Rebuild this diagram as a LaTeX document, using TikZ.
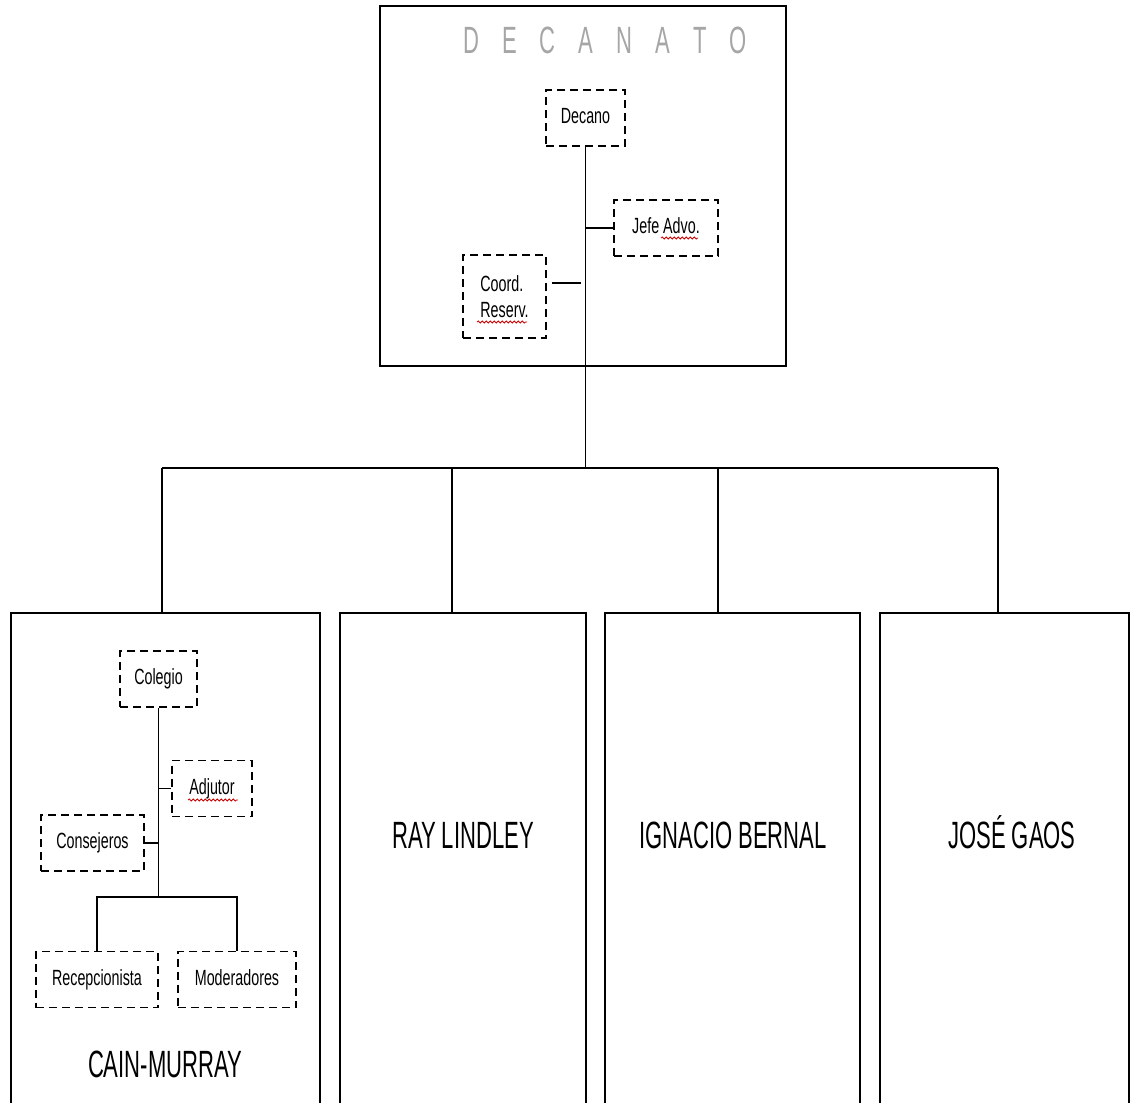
\documentclass[tikz,border=0pt]{standalone}
\usepackage{fontspec}
\newfontfamily\postfont[FakeStretch=0.65]{Liberation Sans}
\newfontfamily\unitfont[FakeStretch=0.58]{Liberation Sans}
\usetikzlibrary{
  positioning,
  decorations.pathmorphing, % wavy spell-check lines
}
\def\mypostheight{28pt}
\def\myunitheight{254pt}
\def\mygap{\hspace{11.5pt}}
\tikzset{
  semithick,
  unit/.style={
    draw,
    line width=0.9pt,
    rectangle,
    inner sep=0pt
  },
  post/.style={
    draw,
    line width=0.9pt,
    dash pattern=on 4pt off 2.5pt,
    rectangle,
    minimum height=\mypostheight,
    text height=8pt,
    text depth=2.5pt,
    inner sep=1pt,
    font=\postfont\fontsize{11}{13}\selectfont
  },
  unit label/.style={
    anchor=base,
    font=\unitfont\fontsize{19}{22}\selectfont
  },
  title label/.style={
    unit label,
    text=black!35
  },
  link/.style={
    line width=0.75pt
  },
  spell/.style={
    red!80!black,
    line width=0.4pt,
    decorate,
    decoration={snake,amplitude=0.5pt,segment length=2pt}
  }
}
\begin{document}
\begin{tikzpicture}[x=0.5pt,y=-0.5pt]
\useasboundingbox (0,0) rectangle (1131,1103);
% decanato
\node[unit, minimum width=203pt, minimum height=180pt] (decanato) at (583,186) {};
\node[title label] (title) at (605,54)
  {D\mygap E\mygap C\mygap A\mygap N\mygap A\mygap T\mygap O};
\node[post, minimum width=39.5pt] (decano) at (585.5,118) {Decano};
\node[post, minimum width=52pt] (jefe) at (666,228) {Jefe Advo.};
\node[post, minimum width=41.5pt, minimum height=41.5pt, align=left,
  text height=, text depth=] (coord) at (504.5,296.5) {Coord.\\Reserv.};
\coordinate (top bus) at (585.5,468);
\draw[link] (decano) -- (top bus);
\draw[link] (jefe) -- (jefe -| decano);
\draw[link] ([xshift=2.5pt,yshift=6.75pt]coord.east)
  -- ([xshift=-2.5pt,yshift=6.75pt]coord.east -| decano);
\draw[spell] (661,238) -- (698,238);
\draw[spell] (477,322) -- (527,322);
% colegios
\foreach \name/\cx/\w in {cain/165.5/154.5, ray/463/123, ignacio/732.5/127.5, jose/1004.5/124.5}
  \node[unit, minimum width=\w pt, minimum height=\myunitheight, anchor=north] (\name) at (\cx,612) {};
\draw[link] (top bus -| 162,0) -- (top bus -| 998,0);
\foreach \name/\dx in {cain/162, ray/452, ignacio/718, jose/998}
  \draw[link] (top bus -| \dx,0) -- (\name.north -| \dx,0);
\node[unit label] (ray label)     at (463,848)  {RAY LINDLEY};
\node[unit label] (ignacio label) at (733,848)  {IGNACIO BERNAL};
\node[unit label] (jose label)    at (1012,848) {JOSÉ GAOS};
\node[unit label] (cain label)    at (165,1077) {CAIN-MURRAY};
% cain-murray
\node[post, minimum width=38.5pt] (colegio)    at (158.5,679)   {Colegio};
\node[post, minimum width=40pt]   (adjutor)    at (212,788.5)   {Adjutor};
\node[post, minimum width=51.5pt] (consejeros) at (92.5,843)    {Consejeros};
\node[post, minimum width=61pt]   (recep)      at (97,979.5)    {Recepcionista};
\node[post, minimum width=59pt]   (moder)      at (237,979.5)   {Moderadores};
\coordinate (split) at (158.5,897);
\draw[link] (colegio) -- (split);
\draw[link] (recep) |- (split) -| (moder);
\draw[link] (adjutor) -- (adjutor -| colegio);
\draw[link] (consejeros) -- (consejeros -| colegio);
\draw[spell] (188,800) -- (238,800);
\end{tikzpicture}
\end{document}
